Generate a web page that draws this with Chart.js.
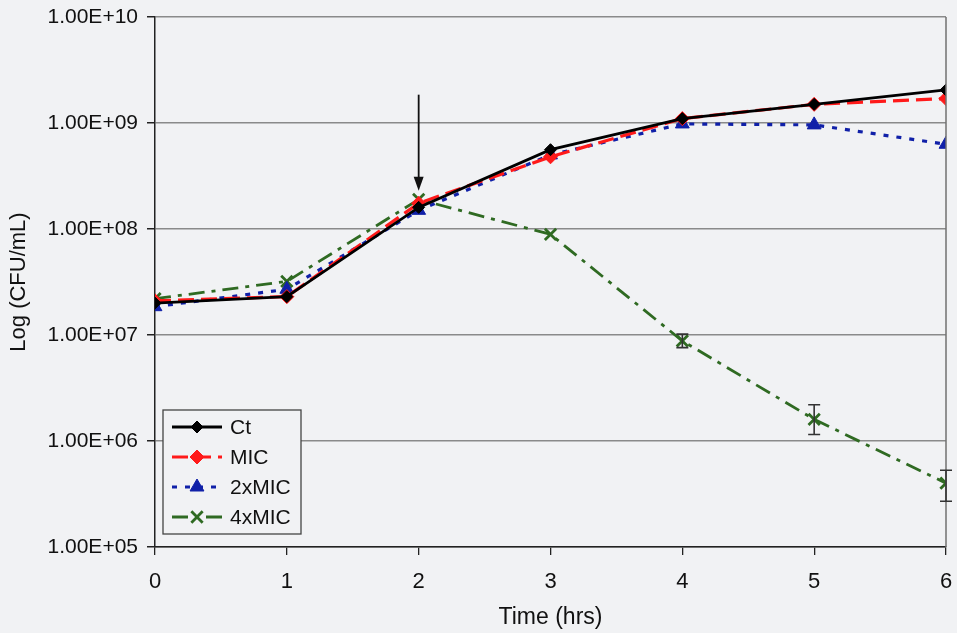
<!DOCTYPE html>
<html>
<head>
<meta charset="utf-8">
<script src="https://cdn.jsdelivr.net/npm/chart.js@4.4.1/dist/chart.umd.min.js"></script>
<style>
  html, body { margin: 0; padding: 0; background: #f1f2f4; }
  #wrap { width: 957px; height: 633px; }
</style>
</head>
<body>
<div id="wrap"><canvas id="c" width="957" height="633"></canvas></div>
<script>
// ---- data ----
const times = [0, 1, 2, 3, 4, 5, 6];
const seriesNames = ['Ct', 'MIC', '2xMIC', '4xMIC'];
const ctValues   = [2.0e7, 2.3e7, 1.6e8, 5.6e8, 1.1e9, 1.5e9, 2.05e9];
const micValues  = [2.1e7, 2.3e7, 1.75e8, 4.8e8, 1.1e9, 1.5e9, 1.7e9];
const mic2Values = [1.85e7, 2.7e7, 1.5e8, 5.0e8, 9.8e8, 9.6e8, 6.3e8];
const mic4Values = [2.2e7, 3.2e7, 1.9e8, 8.9e7, 8.8e6, 1.6e6, 4.0e5];
const mic4ErrLow  = [null, null, null, null, 7.6e6, 1.15e6, 2.7e5];
const mic4ErrHigh = [null, null, null, null, 1.02e7, 2.2e6, 5.3e5];
const yTickValues = [1e5, 1e6, 1e7, 1e8, 1e9, 1e10];
const yTickLabels = ['1.00E+05', '1.00E+06', '1.00E+07', '1.00E+08', '1.00E+09', '1.00E+10'];
const xTickLabels = ['0', '1', '2', '3', '4', '5', '6'];
const arrowX = 2, arrowFrom = 1.85e9, arrowTo = 2.3e8;

const pts = (vals) => times.map((t, i) => ({ x: t, y: vals[i] }));
const FONT = "'Liberation Sans', Arial, sans-serif";

const datasets = [
  { label: seriesNames[0], data: pts(ctValues), borderColor: '#000000', backgroundColor: '#000000',
    borderWidth: 2.8, pointStyle: 'rectRot', pointRadius: 6, pointBorderWidth: 1 },
  { label: seriesNames[1], data: pts(micValues), borderColor: '#ff1a1a', backgroundColor: '#ff1a1a',
    borderWidth: 3.2, borderDash: [16, 7], pointStyle: 'rectRot', pointRadius: 7, pointBorderWidth: 1 },
  { label: seriesNames[2], data: pts(mic2Values), borderColor: '#1020a8', backgroundColor: '#1020a8',
    borderWidth: 3.2, borderDash: [5, 8], pointStyle: 'triangle', pointRadius: 8, pointBorderWidth: 1 },
  { label: seriesNames[3], data: pts(mic4Values), borderColor: '#2f6a22', backgroundColor: '#2f6a22',
    borderWidth: 2.8, borderDash: [16, 7, 4, 7], pointStyle: 'crossRot', pointRadius: 8, pointBorderWidth: 2.8 }
];

const extras = {
  id: 'extras',
  beforeDraw(chart) {
    const { ctx } = chart;
    ctx.save();
    ctx.fillStyle = '#f1f2f4';
    ctx.fillRect(0, 0, chart.width, chart.height);
    ctx.restore();
  },
  afterDatasetsDraw(chart) {
    const { ctx, chartArea: a } = chart;
    const xs = chart.scales.x, ys = chart.scales.y;
    ctx.save();
    // right border of the plot area
    ctx.strokeStyle = '#707070';
    ctx.lineWidth = 1.5;
    ctx.beginPath();
    ctx.moveTo(a.right, a.top);
    ctx.lineTo(a.right, a.bottom);
    ctx.stroke();
    // error bars for 4xMIC
    ctx.strokeStyle = '#333333';
    ctx.lineWidth = 1.6;
    times.forEach((t, i) => {
      if (mic4ErrLow[i] == null) return;
      const px = xs.getPixelForValue(t);
      const y1 = ys.getPixelForValue(mic4ErrHigh[i]);
      const y2 = ys.getPixelForValue(mic4ErrLow[i]);
      ctx.beginPath();
      ctx.moveTo(px, y1); ctx.lineTo(px, y2);
      ctx.moveTo(px - 6, y1); ctx.lineTo(px + 6, y1);
      ctx.moveTo(px - 6, y2); ctx.lineTo(px + 6, y2);
      ctx.stroke();
    });
    // arrow at t=2
    const ax = xs.getPixelForValue(arrowX);
    const ay1 = ys.getPixelForValue(arrowFrom);
    const ay2 = ys.getPixelForValue(arrowTo);
    ctx.strokeStyle = '#111111';
    ctx.fillStyle = '#111111';
    ctx.lineWidth = 1.8;
    ctx.beginPath();
    ctx.moveTo(ax, ay1); ctx.lineTo(ax, ay2 - 8);
    ctx.stroke();
    ctx.beginPath();
    ctx.moveTo(ax, ay2);
    ctx.lineTo(ax - 5, ay2 - 14);
    ctx.lineTo(ax + 5, ay2 - 14);
    ctx.closePath();
    ctx.fill();
    ctx.restore();
  },
  afterDraw(chart) {
    const { ctx, chartArea: a } = chart;
    const bx = a.left + 8, by = a.bottom - 137, bw = 138, bh = 124;
    ctx.save();
    ctx.fillStyle = '#f1f2f4';
    ctx.fillRect(bx, by, bw, bh);
    ctx.strokeStyle = '#444';
    ctx.lineWidth = 1.3;
    ctx.strokeRect(bx, by, bw, bh);
    ctx.font = '21px ' + FONT;
    ctx.textBaseline = 'middle';
    chart.data.datasets.forEach((ds, i) => {
      const cy = by + 17 + i * 30;
      const x0 = bx + 9, x1 = bx + 59, mx = (x0 + x1) / 2;
      ctx.strokeStyle = ds.borderColor;
      ctx.lineWidth = ds.borderWidth;
      ctx.setLineDash(ds.borderDash || []);
      ctx.beginPath(); ctx.moveTo(x0, cy); ctx.lineTo(x1, cy); ctx.stroke();
      ctx.setLineDash([]);
      ctx.fillStyle = ds.backgroundColor;
      ctx.strokeStyle = ds.borderColor;
      ctx.lineWidth = ds.pointBorderWidth;
      Chart.helpers.drawPoint(ctx, { pointStyle: ds.pointStyle, radius: ds.pointRadius, rotation: 0, borderWidth: ds.pointBorderWidth }, mx, cy);
      ctx.fillStyle = '#111';
      ctx.fillText(ds.label, x1 + 8, cy + 1);
    });
    ctx.restore();
  }
};

new Chart(document.getElementById('c'), {
  type: 'line',
  data: { datasets },
  plugins: [extras],
  options: {
    responsive: false,
    animation: false,
    devicePixelRatio: 1,
    layout: { padding: { left: 0, right: 11, top: 17, bottom: 0 } },
    plugins: { legend: { display: false }, tooltip: { enabled: false } },
    elements: { line: { tension: 0, fill: false } },
    scales: {
      x: {
        type: 'linear', min: 0, max: 6,
        afterFit: (s) => { s.height = 86; s.paddingRight = 0; s.paddingLeft = 0; },
        afterBuildTicks: (s) => { s.ticks = times.map(v => ({ value: v })); },
        ticks: { callback: (v, i) => xTickLabels[i], color: '#111', padding: 14,
                 font: { family: FONT, size: 22 }, maxRotation: 0 },
        grid: { drawOnChartArea: false, drawTicks: true, tickLength: 8, tickColor: '#222', lineWidth: 1.3 },
        border: { color: '#222', width: 1.5 },
        title: { display: true, text: 'Time (hrs)', color: '#111',
                 font: { family: FONT, size: 23 }, padding: { top: 0, bottom: 2 } }
      },
      y: {
        type: 'logarithmic', min: 1e5, max: 1e10,
        afterFit: (s) => { s.width = 155; s.paddingTop = 0; s.paddingBottom = 0; },
        afterBuildTicks: (s) => { s.ticks = yTickValues.map(v => ({ value: v })); },
        ticks: { callback: (v, i) => yTickLabels[i], color: '#111', padding: 9,
                 font: { family: FONT, size: 21 } },
        grid: { color: '#8a8a8a', lineWidth: 1.5, drawTicks: true, tickLength: 8, tickColor: '#222' },
        border: { color: '#222', width: 1.5 },
        title: { display: true, text: 'Log (CFU/mL)', color: '#111',
                 font: { family: FONT, size: 22 }, padding: { top: 6, bottom: 0 } }
      }
    }
  }
});
</script>
</body>
</html>
